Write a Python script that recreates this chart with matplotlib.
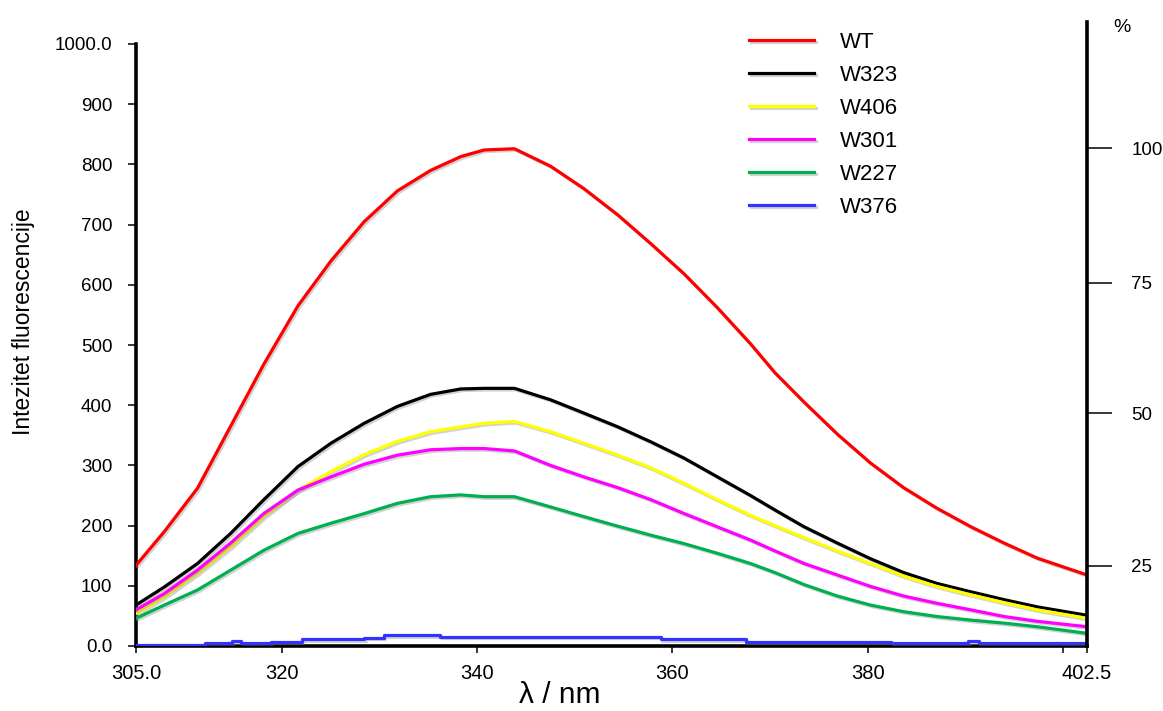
import matplotlib
matplotlib.use('Agg')
import matplotlib.pyplot as plt
import matplotlib.patheffects as pe

# wavelength grid (nm) and the intensities
wl = [305.0, 307.9, 311.3, 314.7, 318.1, 321.6, 325.0, 328.4, 331.8, 335.2, 338.3,
      340.7, 343.8, 347.5, 350.9, 354.4, 357.8, 361.2, 364.6, 368.0, 370.5,
      373.5, 376.9, 380.3, 383.7, 387.1, 390.6, 394.0, 397.4, 402.5]

wt = [134, 190, 262, 365, 468, 565, 640, 705, 756, 790, 813,
      824, 826, 797, 760, 716, 668, 618, 562, 502, 454,
      405, 352, 304, 263, 229, 198, 171, 146, 118]
w323 = [68, 98, 137, 187, 243, 298, 337, 370, 398, 418, 427,
        428, 428, 409, 387, 364, 339, 312, 281, 250, 226,
        198, 171, 145, 122, 104, 90, 77, 65, 51]
w406 = [54, 82, 121, 165, 215, 259, 290, 318, 340, 356, 364,
        370, 373, 356, 337, 317, 296, 270, 243, 217, 200,
        180, 158, 137, 116, 99, 85, 72, 60, 46]
w301 = [60, 87, 126, 171, 220, 259, 281, 302, 317, 326, 328,
        328, 324, 300, 281, 263, 243, 220, 198, 176, 158,
        137, 118, 99, 83, 71, 60, 49, 41, 32]
w227 = [46, 68, 93, 126, 159, 187, 204, 220, 237, 248, 251,
        248, 248, 231, 215, 199, 184, 170, 154, 137, 122,
        102, 83, 68, 57, 49, 43, 38, 32, 21]

# W376 is a stepped trace: step start wavelengths and levels
w376_x = [305.0, 312.1, 314.8, 315.8, 318.8, 322.0, 328.4, 330.4, 336.2,
          358.8, 367.5, 382.4, 390.3, 391.4, 402.5]
w376_y = [2, 4.5, 8, 4.5, 7, 11, 14, 18, 15.5, 11, 7, 4.5, 8, 4.5, 4.5]

names = ['WT', 'W323', 'W406', 'W301', 'W227', 'W376']
colors = ['#ff0000', '#000000', '#ffff00', '#ff00ff', '#00b050', '#3333ff']

xticks = [305, 320, 340, 360, 380, 400, 402.5]
xticklabels = ['305.0', '320', '340', '360', '380', '', '402.5']
yticks = [0, 100, 200, 300, 400, 500, 600, 700, 800, 900, 1000]
yticklabels = ['0.0', '100', '200', '300', '400', '500', '600', '700', '800', '900', '1000.0']
# percent scale drawn by hand on the right, in units of the left axis
pct_pos = [827, 603, 387, 133]
pct_labels = ['100', '75', '50', '25']

plt.rcParams['font.family'] = ['Liberation Sans', 'DejaVu Sans']

W, H = 1163, 711
fig = plt.figure(figsize=(W / 100, H / 100), dpi=100)
ax = fig.add_axes([136 / W, 1 - 646 / H, (1087 - 136) / W, (646 - 44) / H])

shadow = [pe.SimpleLineShadow(offset=(1.2, -1.2), shadow_color='gray', alpha=0.35), pe.Normal()]

series = [wt, w323, w406, w301, w227]
for ys, name, c in zip(series, names[:5], colors[:5]):
    ax.plot(wl, ys, color=c, lw=2.3, label=name, path_effects=shadow, zorder=3)
ax.plot(w376_x, w376_y, color=colors[5], lw=2.3, label=names[5], drawstyle='steps-post',
        path_effects=shadow, zorder=3)

ax.set_xlim(305, 402.5)
ax.set_ylim(0, 1000)
ax.set_xticks(xticks, labels=xticklabels)
ax.set_yticks(yticks, labels=yticklabels)
ax.tick_params(axis='y', direction='out', length=6, width=1.1, pad=11, labelsize=13.5)
ax.tick_params(axis='x', direction='out', length=5, width=1.1, pad=8, labelsize=14.5)

for s in ['top', 'right']:
    ax.spines[s].set_visible(False)
for s in ['left', 'bottom']:
    ax.spines[s].set_linewidth(2.6)

ax2 = ax.twinx()
ax2.set_ylim(0, 1000)
for s in ['top', 'left', 'bottom']:
    ax2.spines[s].set_visible(False)
ax2.spines['right'].set_linewidth(2.6)
ax2.spines['right'].set_bounds(0, 1037)
ax2.set_yticks(pct_pos, labels=pct_labels)
ax2.tick_params(axis='y', direction='out', length=18, width=1.1, pad=14, labelsize=13.5)
ax2.yaxis.get_major_ticks()[2].tick2line.set_color('#4a7ebb')
fig.text(1122 / W, 1 - 27 / H, '%', ha='center', va='center', fontsize=14)

ax.set_ylabel('Intezitet fluorescencije', fontsize=16.5)
ax.yaxis.set_label_coords(-0.106, 0.538)
fig.text(560 / W, 1 - 695 / H, 'λ / nm', ha='center', va='center', fontsize=21.5)

leg = ax.legend(loc='upper left', bbox_to_anchor=(749 / W, 1 - 32 / H),
                bbox_transform=fig.transFigure, frameon=False, borderpad=0,
                borderaxespad=0, handlelength=2.93, handletextpad=1.17,
                labelspacing=0.54, prop={'size': 16})

fig.savefig('out.png', dpi=100)
